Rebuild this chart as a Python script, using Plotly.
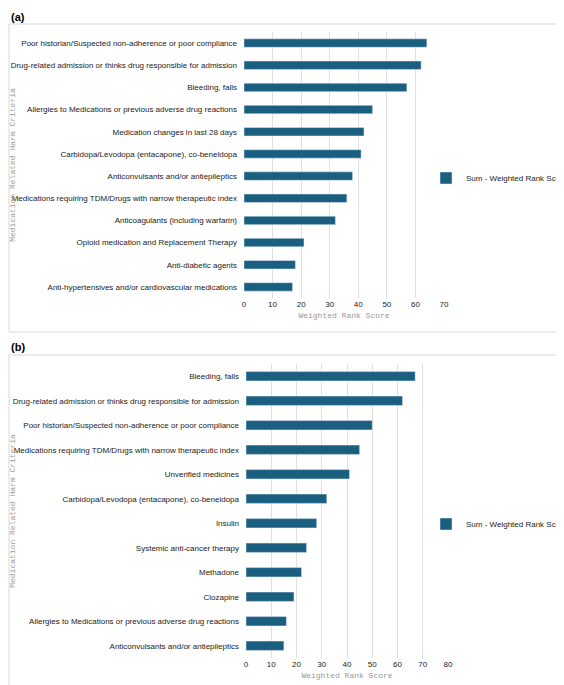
import plotly.graph_objects as go

# panel (a)
cats_a = ["Poor historian/Suspected non-adherence or poor compliance",
          "Drug-related admission or thinks drug responsible for admission",
          "Bleeding, falls",
          "Allergies to Medications or previous adverse drug reactions",
          "Medication changes in last 28 days",
          "Carbidopa/Levodopa (entacapone), co-beneldopa",
          "Anticonvulsants and/or antiepileptics",
          "Medications requiring TDM/Drugs with narrow therapeutic index",
          "Anticoagulants (including warfarin)",
          "Opioid medication and Replacement Therapy",
          "Anti-diabetic agents",
          "Anti-hypertensives and/or cardiovascular medications"]
vals_a = [64, 62, 57, 45, 42, 41, 38, 36, 32, 21, 18, 17]

# panel (b)
cats_b = ["Bleeding, falls",
          "Drug-related admission or thinks drug responsible for admission",
          "Poor historian/Suspected non-adherence or poor compliance",
          "Medications requiring TDM/Drugs with narrow therapeutic index",
          "Unverified medicines",
          "Carbidopa/Levodopa (entacapone), co-beneldopa",
          "Insulin",
          "Systemic anti-cancer therapy",
          "Methadone",
          "Clozapine",
          "Allergies to Medications or previous adverse drug reactions",
          "Anticonvulsants and/or antiepileptics"]
vals_b = [67, 62, 50, 45, 41, 32, 28, 24, 22, 19, 16, 15]

W, H = 564, 685
BAR = "#1a5f80"
def px(x): return x / W
def py(y): return 1 - y / H

fig = go.Figure()
fig.add_trace(go.Bar(x=vals_a, y=cats_a, orientation="h", marker_color=BAR,
                     width=0.38, name="Sum - Weighted Rank Score",
                     xaxis="x", yaxis="y", legend="legend"))
fig.add_trace(go.Bar(x=vals_b, y=cats_b, orientation="h", marker_color=BAR,
                     width=0.38, name="Sum - Weighted Rank Score",
                     xaxis="x2", yaxis="y2", legend="legend2"))

tick = dict(family="Liberation Sans", size=8, color="#222")
ttl = dict(family="Liberation Mono", size=8, color="#999")
xcommon = dict(showgrid=True, gridcolor="#e0e0e0", zeroline=False, tickfont=tick,
               dtick=10, showline=False, ticks="", automargin=False)
ycommon = dict(autorange="reversed", tickfont=tick, showgrid=False, ticks="",
               ticklabelstandoff=6, automargin=False)
legfont = dict(family="Liberation Sans", size=8, color="#222")

fig.update_layout(
    width=W, height=H, margin=dict(l=0, r=0, t=0, b=0, autoexpand=False),
    paper_bgcolor="white", plot_bgcolor="white", showlegend=True, bargap=0.6,
    xaxis=dict(xcommon, domain=[px(236), px(436)], range=[0, 70], anchor="y",
               title=dict(text="Weighted Rank Score", font=ttl, standoff=4)),
    yaxis=dict(ycommon, domain=[py(290), py(24)], anchor="x",
               title=dict(text="Medication Related Harm Criteria", font=ttl,
                          standoff=212)),
    xaxis2=dict(xcommon, domain=[px(238), px(440)], range=[0, 80], anchor="y2",
                title=dict(text="Weighted Rank Score", font=ttl, standoff=4)),
    yaxis2=dict(ycommon, domain=[py(650), py(356)], anchor="x2",
                title=dict(text="Medication Related Harm Criteria", font=ttl,
                           standoff=214)),
    legend=dict(x=px(418), y=py(170), yanchor="middle", xanchor="left",
                font=legfont, itemwidth=30, bgcolor="rgba(0,0,0,0)"),
    legend2=dict(x=px(418), y=py(516), yanchor="middle", xanchor="left",
                 font=legfont, itemwidth=30, bgcolor="rgba(0,0,0,0)"),
    shapes=[
        dict(type="rect", xref="paper", yref="paper", x0=px(1), x1=px(562),
             y0=py(324), y1=py(16), line=dict(color="#d8d8d8", width=1)),
        dict(type="rect", xref="paper", yref="paper", x0=px(1), x1=px(562),
             y0=py(683), y1=py(347), line=dict(color="#d8d8d8", width=1)),
    ],
    annotations=[
        dict(text="<b>(a)</b>", x=px(1), y=py(1), xref="paper", yref="paper",
             xanchor="left", yanchor="top", showarrow=False,
             font=dict(family="Liberation Sans", size=11, color="black")),
        dict(text="<b>(b)</b>", x=px(1), y=py(331), xref="paper", yref="paper",
             xanchor="left", yanchor="top", showarrow=False,
             font=dict(family="Liberation Sans", size=11, color="black")),
    ],
)

fig.write_html("out.html")
